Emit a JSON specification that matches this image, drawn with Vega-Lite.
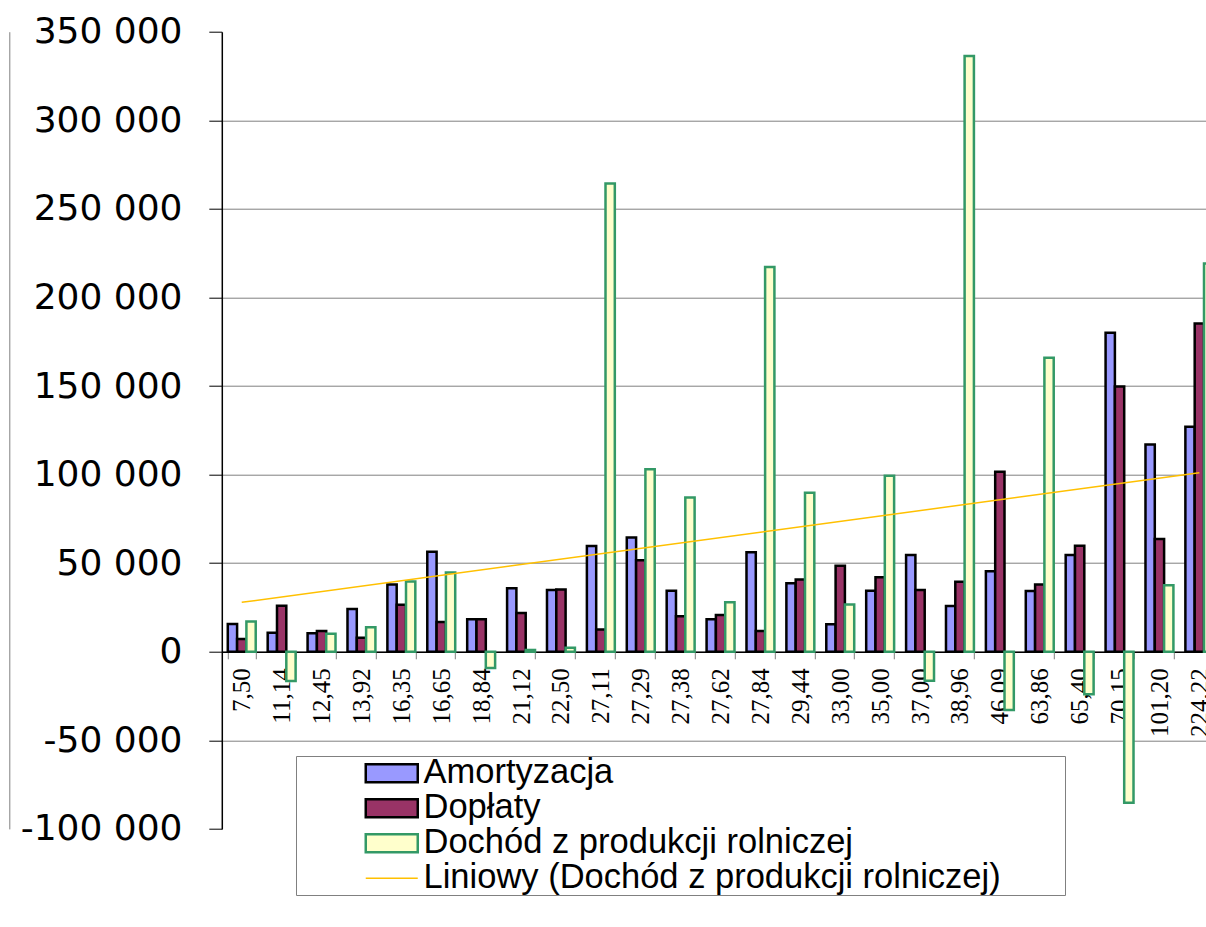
{
  "$schema": "https://vega.github.io/schema/vega-lite/v6.json",
  "autosize": {"type": "none"},
  "width": 984.2,
  "height": 797.2,
  "padding": {"left": 221.8, "top": 31.7, "right": 0, "bottom": 98.1},
  "background": "white",
  "config": {
    "view": {"stroke": null},
    "locale": {"number": {"decimal": ",", "thousands": " ", "grouping": [3], "currency": ["", ""], "minus": "-"}}
  },
  "datasets": {
    "bars": [
      {"cat": "7,50", "series": "Amortyzacja", "value": 15600},
      {"cat": "7,50", "series": "Dopłaty", "value": 7200},
      {"cat": "7,50", "series": "Dochód z produkcji rolniczej", "value": 17100},
      {"cat": "11,14", "series": "Amortyzacja", "value": 10700},
      {"cat": "11,14", "series": "Dopłaty", "value": 26000},
      {"cat": "11,14", "series": "Dochód z produkcji rolniczej", "value": -16500},
      {"cat": "12,45", "series": "Amortyzacja", "value": 10400},
      {"cat": "12,45", "series": "Dopłaty", "value": 11700},
      {"cat": "12,45", "series": "Dochód z produkcji rolniczej", "value": 10200},
      {"cat": "13,92", "series": "Amortyzacja", "value": 24100},
      {"cat": "13,92", "series": "Dopłaty", "value": 7900},
      {"cat": "13,92", "series": "Dochód z produkcji rolniczej", "value": 13800},
      {"cat": "16,35", "series": "Amortyzacja", "value": 38000},
      {"cat": "16,35", "series": "Dopłaty", "value": 26500},
      {"cat": "16,35", "series": "Dochód z produkcji rolniczej", "value": 39700},
      {"cat": "16,65", "series": "Amortyzacja", "value": 56400},
      {"cat": "16,65", "series": "Dopłaty", "value": 16800},
      {"cat": "16,65", "series": "Dochód z produkcji rolniczej", "value": 44800},
      {"cat": "18,84", "series": "Amortyzacja", "value": 18400},
      {"cat": "18,84", "series": "Dopłaty", "value": 18300},
      {"cat": "18,84", "series": "Dochód z produkcji rolniczej", "value": -9200},
      {"cat": "21,12", "series": "Amortyzacja", "value": 35800},
      {"cat": "21,12", "series": "Dopłaty", "value": 21800},
      {"cat": "21,12", "series": "Dochód z produkcji rolniczej", "value": 1000},
      {"cat": "22,50", "series": "Amortyzacja", "value": 34800},
      {"cat": "22,50", "series": "Dopłaty", "value": 35200},
      {"cat": "22,50", "series": "Dochód z produkcji rolniczej", "value": 2300},
      {"cat": "27,11", "series": "Amortyzacja", "value": 59700},
      {"cat": "27,11", "series": "Dopłaty", "value": 12600},
      {"cat": "27,11", "series": "Dochód z produkcji rolniczej", "value": 264300},
      {"cat": "27,29", "series": "Amortyzacja", "value": 64500},
      {"cat": "27,29", "series": "Dopłaty", "value": 51600},
      {"cat": "27,29", "series": "Dochód z produkcji rolniczej", "value": 103000},
      {"cat": "27,38", "series": "Amortyzacja", "value": 34400},
      {"cat": "27,38", "series": "Dopłaty", "value": 20000},
      {"cat": "27,38", "series": "Dochód z produkcji rolniczej", "value": 87100},
      {"cat": "27,62", "series": "Amortyzacja", "value": 18400},
      {"cat": "27,62", "series": "Dopłaty", "value": 20700},
      {"cat": "27,62", "series": "Dochód z produkcji rolniczej", "value": 27900},
      {"cat": "27,84", "series": "Amortyzacja", "value": 56100},
      {"cat": "27,84", "series": "Dopłaty", "value": 11700},
      {"cat": "27,84", "series": "Dochód z produkcji rolniczej", "value": 217200},
      {"cat": "29,44", "series": "Amortyzacja", "value": 38600},
      {"cat": "29,44", "series": "Dopłaty", "value": 40800},
      {"cat": "29,44", "series": "Dochód z produkcji rolniczej", "value": 89700},
      {"cat": "33,00", "series": "Amortyzacja", "value": 15500},
      {"cat": "33,00", "series": "Dopłaty", "value": 48500},
      {"cat": "33,00", "series": "Dochód z produkcji rolniczej", "value": 26700},
      {"cat": "35,00", "series": "Amortyzacja", "value": 34400},
      {"cat": "35,00", "series": "Dopłaty", "value": 42000},
      {"cat": "35,00", "series": "Dochód z produkcji rolniczej", "value": 99300},
      {"cat": "37,00", "series": "Amortyzacja", "value": 54600},
      {"cat": "37,00", "series": "Dopłaty", "value": 34800},
      {"cat": "37,00", "series": "Dochód z produkcji rolniczej", "value": -16400},
      {"cat": "38,96", "series": "Amortyzacja", "value": 25800},
      {"cat": "38,96", "series": "Dopłaty", "value": 39500},
      {"cat": "38,96", "series": "Dochód z produkcji rolniczej", "value": 336300},
      {"cat": "46,09", "series": "Amortyzacja", "value": 45500},
      {"cat": "46,09", "series": "Dopłaty", "value": 101600},
      {"cat": "46,09", "series": "Dochód z produkcji rolniczej", "value": -32900},
      {"cat": "63,86", "series": "Amortyzacja", "value": 34300},
      {"cat": "63,86", "series": "Dopłaty", "value": 38000},
      {"cat": "63,86", "series": "Dochód z produkcji rolniczej", "value": 165900},
      {"cat": "65,40", "series": "Amortyzacja", "value": 54600},
      {"cat": "65,40", "series": "Dopłaty", "value": 59800},
      {"cat": "65,40", "series": "Dochód z produkcji rolniczej", "value": -24000},
      {"cat": "70,15", "series": "Amortyzacja", "value": 180000},
      {"cat": "70,15", "series": "Dopłaty", "value": 149700},
      {"cat": "70,15", "series": "Dochód z produkcji rolniczej", "value": -85200},
      {"cat": "101,20", "series": "Amortyzacja", "value": 117000},
      {"cat": "101,20", "series": "Dopłaty", "value": 63600},
      {"cat": "101,20", "series": "Dochód z produkcji rolniczej", "value": 37600},
      {"cat": "224,22", "series": "Amortyzacja", "value": 127000},
      {"cat": "224,22", "series": "Dopłaty", "value": 185300},
      {"cat": "224,22", "series": "Dochód z produkcji rolniczej", "value": 219200}
    ],
    "trend": [
      {"cat": "7,50", "series": "Liniowy (Dochód z produkcji rolniczej)", "value": 27900},
      {"cat": "224,22", "series": "Liniowy (Dochód z produkcji rolniczej)", "value": 101000}
    ]
  },
  "resolve": {"axis": {"y": "independent"}},
  "layer": [
    {
      "data": {"name": "bars"},
      "mark": {"type": "bar", "strokeWidth": 2.5},
      "encoding": {
        "x": {
          "field": "cat", "type": "nominal",
          "scale": {
            "domain": ["7,50","11,14","12,45","13,92","16,35","16,65","18,84","21,12","22,50","27,11","27,29","27,38","27,62","27,84","29,44","33,00","35,00","37,00","38,96","46,09","63,86","65,40","70,15","101,20","224,22"],
            "range": [0, 997.5], "paddingInner": 0.3, "paddingOuter": 0.15
          },
          "axis": {
            "title": null, "orient": "bottom", "offset": -177.1,
            "domainColor": "black", "domainWidth": 1.5,
            "tickColor": "#808080", "tickSize": 7, "tickWidth": 1, "tickBand": "extent",
            "labelAngle": 270, "labelFont": "Liberation Serif", "labelFontSize": 25, "labelColor": "black",
            "labelPadding": 9, "labelOverlap": false, "labelBound": false, "labelFlush": false, "grid": false
          }
        },
        "xOffset": {
          "field": "series", "type": "nominal",
          "scale": {"domain": ["Amortyzacja", "Dopłaty", "Dochód z produkcji rolniczej"], "paddingInner": 0, "paddingOuter": 0}
        },
        "y": {
          "field": "value", "type": "quantitative",
          "scale": {"domain": [-100000, 350000], "nice": false, "zero": false},
          "axis": {
            "title": null, "orient": "left", "format": ",.0f",
            "values": [-100000, -50000, 0, 50000, 100000, 150000, 200000, 250000, 300000, 350000],
            "labelFont": "DejaVu Sans", "labelFontSize": 36, "labelColor": "black", "labelPadding": 26.8,
            "domainColor": "black", "domainWidth": 1.5, "tickColor": "black", "tickSize": 13, "tickWidth": 1,
            "grid": true, "gridWidth": 1,
            "gridColor": {"condition": {"test": "datum.value === 350000 || datum.value === -100000", "value": "transparent"}, "value": "#808080"}
          }
        },
        "fill": {
          "field": "series", "type": "nominal",
          "scale": {
            "domain": ["Amortyzacja", "Dopłaty", "Dochód z produkcji rolniczej", "Liniowy (Dochód z produkcji rolniczej)"],
            "range": ["#9999FF", "#993366", "#FFFFCC", "#FFC000"]
          },
          "legend": {
            "orient": "none", "legendX": 74.2, "legendY": 724.3,
            "title": "\u00a0", "titleOrient": "right", "titlePadding": 64, "titleFontSize": 10,
            "padding": 0, "fillColor": "white", "strokeColor": "#808080",
            "symbolOffset": 78.5, "labelOffset": 14.5, "labelFont": "Liberation Sans", "labelFontSize": 34.5,
            "labelColor": "black", "labelLimit": 0, "rowPadding": 0, "symbolSize": 2704,
            "labelExpr": "datum.label === 'Dopłaty' ? '\u00a0Dopłaty' : datum.label",
            "encode": {
              "symbols": {
                "update": {
                  "shape": {"signal": "datum.value === 'Liniowy (Dochód z produkcji rolniczej)' ? 'stroke' : 'M-1,-0.346H1V0.346H-1Z'"},
                  "fill": {"scale": "fill", "field": "value"},
                  "stroke": {"scale": "stroke", "field": "value"},
                  "strokeWidth": {"signal": "datum.value === 'Liniowy (Dochód z produkcji rolniczej)' ? 1.5 : 2.5"},
                  "opacity": {"value": 1}
                }
              }
            }
          }
        },
        "stroke": {
          "field": "series", "type": "nominal",
          "scale": {
            "domain": ["Amortyzacja", "Dopłaty", "Dochód z produkcji rolniczej", "Liniowy (Dochód z produkcji rolniczej)"],
            "range": ["black", "black", "#339966", "#FFC000"]
          },
          "legend": null
        }
      }
    },
    {
      "data": {"name": "trend"},
      "mark": {"type": "line", "strokeWidth": 1.5},
      "encoding": {
        "x": {"field": "cat", "type": "nominal"},
        "y": {
          "field": "value", "type": "quantitative",
          "axis": {"title": null, "orient": "left", "offset": 212.5, "labels": false, "ticks": false, "grid": false, "domainColor": "#808080", "domainWidth": 1}
        },
        "stroke": {"field": "series", "type": "nominal", "legend": null}
      }
    }
  ]
}
